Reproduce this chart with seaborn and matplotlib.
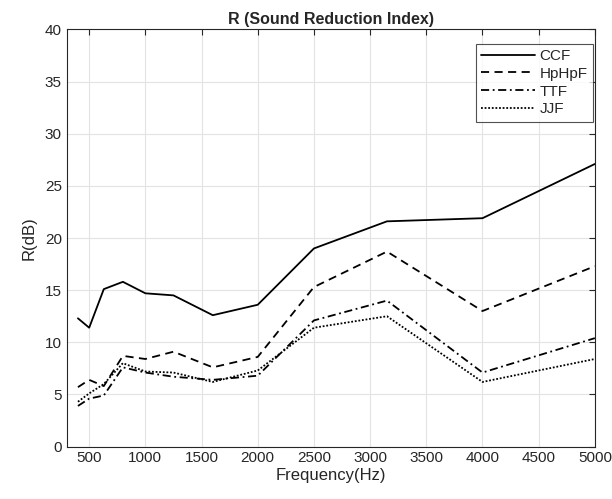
import pandas as pd
import matplotlib
matplotlib.use("Agg")
import matplotlib.pyplot as plt
import seaborn as sns

# ------------------------------------------------------------------
# data
# ------------------------------------------------------------------
freq = [400, 500, 630, 800, 1000, 1250, 1600, 2000, 2500, 3150, 4000, 5000]
ccf = [12.3, 11.4, 15.1, 15.8, 14.7, 14.5, 12.6, 13.6, 19.0, 21.6, 21.9, 27.1]
hphpf = [5.7, 6.4, 5.8, 8.7, 8.4, 9.1, 7.6, 8.6, 15.3, 18.7, 13.0, 17.3]
ttf = [3.9, 4.6, 4.9, 7.6, 7.1, 6.7, 6.4, 6.8, 12.1, 14.0, 7.1, 10.4]
jjf = [4.3, 5.1, 6.0, 8.0, 7.2, 7.1, 6.2, 7.3, 11.4, 12.5, 6.2, 8.4]
series_names = ["CCF", "HpHpF", "TTF", "JJF"]
x_ticks = [500, 1000, 1500, 2000, 2500, 3000, 3500, 4000, 4500, 5000]
y_ticks = [0, 5, 10, 15, 20, 25, 30, 35, 40]


def build_frame() -> pd.DataFrame:
    parts = []
    for name, vals in zip(series_names, [ccf, hphpf, ttf, jjf]):
        parts.append(pd.DataFrame({"Frequency": freq, "R": vals, "Sample": name}))
    return pd.concat(parts, ignore_index=True)


sns.set_theme(style="whitegrid")
plt.rcParams["font.family"] = ["Liberation Sans", "DejaVu Sans"]

df = build_frame()

fig = plt.figure(figsize=(6.12, 4.99), dpi=100)
ax = fig.add_axes([0.109, 0.105, 0.863, 0.836])

dash_map = {
    "CCF": "",
    "HpHpF": (4.5, 3),
    "TTF": (4.5, 2, 1, 2),
    "JJF": (1, 1),
}
sns.lineplot(
    data=df,
    x="Frequency",
    y="R",
    hue="Sample",
    style="Sample",
    palette=["black"] * 4,
    dashes=dash_map,
    linewidth=1.3,
    ax=ax,
)

ax.set_xlim(300, 5000)
ax.set_ylim(0, 40)
ax.set_xticks(x_ticks)
ax.set_yticks(y_ticks)
ax.grid(True, color="#e3e3e3", linewidth=0.8)
for side in ax.spines.values():
    side.set_color("#262626")
    side.set_linewidth(0.8)
ax.tick_params(direction="in", top=True, right=True, length=4,
               color="#262626", labelcolor="#262626", labelsize=11, width=0.8)

ax.set_title("R (Sound Reduction Index)", fontsize=11.5, fontweight="bold", pad=4)
ax.set_xlabel("Frequency(Hz)", fontsize=12, color="#262626", labelpad=2)
ax.set_ylabel("R(dB)", fontsize=12, color="#262626", labelpad=6)

leg = ax.legend(loc="upper right", bbox_to_anchor=(0.996, 0.966),
                fontsize=11, handlelength=3.5,
                frameon=True, fancybox=False, borderaxespad=0.0,
                handletextpad=0.3, labelspacing=0.25, borderpad=0.35)
leg.get_frame().set_edgecolor("#262626")
leg.get_frame().set_linewidth(0.8)

fig.savefig("out.png", dpi=100)
